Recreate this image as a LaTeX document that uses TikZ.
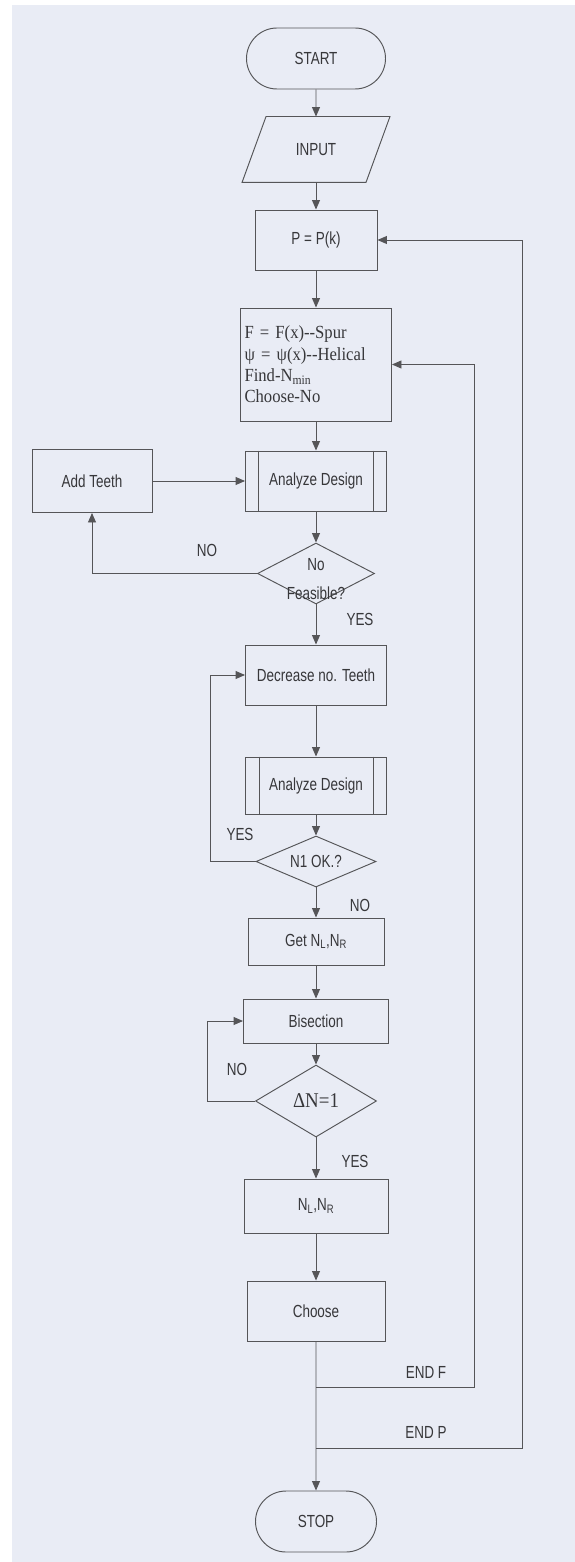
\documentclass[tikz,border=0pt]{standalone}
\usepackage{fontspec}
\usetikzlibrary{shapes.geometric,shapes.misc,arrows.meta}
\newfontfamily\labsans{Liberation Sans}[FakeStretch=0.77]
\newfontfamily\labserif{Liberation Serif}[FakeStretch=0.9]
\definecolor{bgc}{RGB}{233,236,245}
\definecolor{ink}{RGB}{85,85,88}
\definecolor{txt}{RGB}{55,55,58}
\begin{document}
\begin{tikzpicture}[x=1pt,y=-1pt,line width=0.95pt,
  every node/.style={font=\labsans\fontsize{17.5}{20}\selectfont, text=txt},
  box/.style={draw=ink, rectangle, inner sep=0pt},
  term/.style={draw=ink, rounded rectangle, inner sep=0pt, minimum width=139pt, minimum height=61pt},
  dec/.style={draw=ink, diamond, inner sep=0pt},
  arr/.style={draw=ink, -{Triangle[length=9.5pt,width=8pt]}},
  lbl/.style={inner sep=0pt}]
\fill[white] (0,0) rectangle (575,1562);
\fill[bgc] (12,5) rectangle (575,1562);
\useasboundingbox (0,0) rectangle (575,1562);

\node[term] (start) at (316,58.5) {START};
\node[minimum width=123pt, minimum height=65pt, inner sep=0pt] (input) at (316,149.5) {INPUT};
\draw[ink] ([xshift=12pt]input.north west) -- ([xshift=12pt]input.north east) -- ([xshift=-12pt]input.south east) -- ([xshift=-12pt]input.south west) -- cycle;
\node[box, minimum width=122pt, minimum height=60pt] (p) at (316,240) {P = P(k)};
\node[box, minimum height=113pt, text width=143pt, inner xsep=4pt, align=left, font=\labserif\fontsize{18.5}{21.3}\selectfont] (f) at (316,364.5) {F = F(x)-{}-Spur\\ ψ = ψ(x)-{}-Helical\\ Find-N\textsubscript{min}\\ Choose-No};
\node[box, minimum width=141pt, minimum height=60pt] (ad1) at (316,481) {Analyze Design};
\draw[ink] ([xshift=13pt]ad1.north west) -- ([xshift=13pt]ad1.south west);
\draw[ink] ([xshift=-14pt]ad1.north east) -- ([xshift=-14pt]ad1.south east);
\node[box, minimum width=120pt, minimum height=63pt] (add) at (92,481) {Add Teeth};
\node[dec, minimum width=117pt, minimum height=61pt] (nf) at (316,573.5) {};
\node[align=center, inner sep=0pt, font=\labsans\fontsize{17.5}{29}\selectfont] (nft) at (316,579) {No\\Feasible?};
\node[box, minimum width=141pt, minimum height=60pt] (dec) at (316,675) {Decrease no. Teeth};
\node[box, minimum width=141pt, minimum height=57pt] (ad2) at (316,785.5) {Analyze Design};
\draw[ink] ([xshift=14pt]ad2.north west) -- ([xshift=14pt]ad2.south west);
\draw[ink] ([xshift=-14pt]ad2.north east) -- ([xshift=-14pt]ad2.south east);
\node[dec, aspect=2.35, minimum width=120pt, minimum height=51pt] (n1) at (316,861.5) {N1 OK.?};
\node[box, minimum width=136pt, minimum height=47pt] (get) at (316,941.5) {Get N\textsubscript{L},N\textsubscript{R}};
\node[box, minimum width=145pt, minimum height=44pt] (bis) at (316,1021) {Bisection};
\node[dec, aspect=1.68, minimum width=121pt, minimum height=72pt, font=\labserif\fontsize{21}{24}\selectfont] (dn) at (316,1101) {ΔN=1};
\node[box, minimum width=144pt, minimum height=54pt] (nlnr) at (316,1206) {N\textsubscript{L},N\textsubscript{R}};
\node[box, minimum width=138pt, minimum height=60pt] (choose) at (316,1311) {Choose};
\node[term, minimum width=121pt] (stop) at (316,1521.5) {STOP};

\coordinate (c1) at (210,861.5);
\coordinate (c2) at (207,1101);
\coordinate (jf) at (316,1387);
\coordinate (jp) at (316,1448);
\coordinate (rf) at (474,1387);
\coordinate (rp) at (522,1448);

\draw[arr] (start) -- (input);
\draw[arr] (input) -- (p);
\draw[arr] (p) -- (f);
\draw[arr] (f) -- (ad1);
\draw[arr] (ad1) -- (nf);
\draw[arr] (nf) -- (dec);
\draw[arr] (nf.west) -| (add.south);
\draw[arr] (add) -- (ad1);
\draw[arr] (dec) -- (ad2);
\draw[arr] (ad2) -- (n1);
\draw[arr] (n1.west) -- (c1) |- (dec.west);
\draw[arr] (n1) -- (get);
\draw[arr] (get) -- (bis);
\draw[arr] (bis) -- (dn);
\draw[arr] (dn.west) -- (c2) |- (bis.west);
\draw[arr] (dn) -- (nlnr);
\draw[arr] (nlnr) -- (choose);
\draw[arr] (choose) -- (stop);
\draw[arr] (jf) -- (rf) |- (f.east);
\draw[arr] (jp) -- (rp) |- (p.east);

\node[lbl] (lno1) at (207,550) {NO};
\node[lbl] (lyes1) at (360,619) {YES};
\node[lbl] (lyes2) at (240,834) {YES};
\node[lbl] (lno2) at (360,905) {NO};
\node[lbl] (lno3) at (237,1069) {NO};
\node[lbl] (lyes3) at (355,1161) {YES};
\node[lbl] (lendf) at (426,1372) {END F};
\node[lbl] (lendp) at (426,1432) {END P};
\end{tikzpicture}
\end{document}
